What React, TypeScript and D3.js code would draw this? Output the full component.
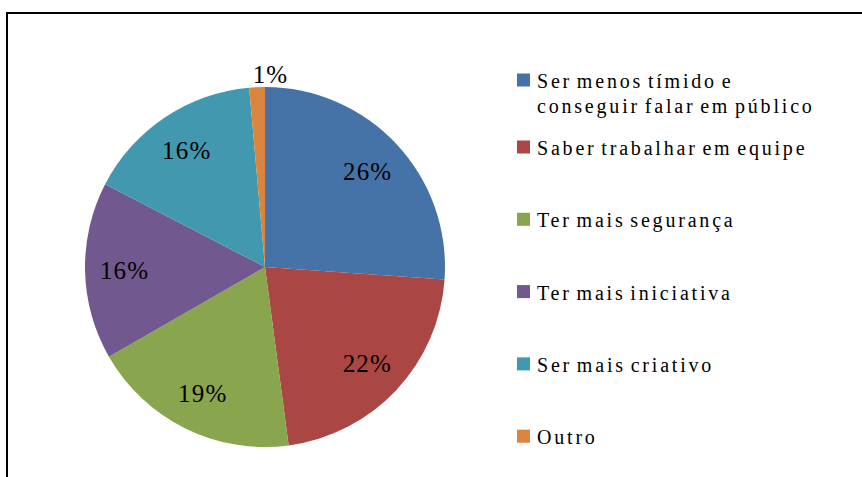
import { useEffect, useRef } from 'react'
import * as d3 from 'd3'

const categories = [
  ['Ser menos tímido e', 'conseguir falar em público'],
  ['Saber trabalhar em equipe'],
  ['Ter mais segurança'],
  ['Ter mais iniciativa'],
  ['Ser mais criativo'],
  ['Outro'],
]
const values = [26.1, 21.8, 18.8, 15.9, 16.0, 1.4]
const labels = ['26%', '22%', '19%', '16%', '16%', '1%']
const colors = ['#4572A7', '#AA4643', '#89A54E', '#71588F', '#4198AF', '#DB843D']

const W = 862
const H = 477
const CX = 265
const CY = 267
const R = 180
const FONT = 'Times New Roman, Liberation Serif, Tinos, DejaVu Serif, serif'

export default function App() {
  const svgRef = useRef<SVGSVGElement>(null)

  useEffect(() => {
    if (!svgRef.current) return
    const svg = d3.select(svgRef.current)
    svg.selectAll('*').remove()

    // frame (only left and top edges show)
    svg.append('path')
      .attr('d', `M7,${H} V13 H${W}`)
      .attr('fill', 'none').attr('stroke', '#000').attr('stroke-width', 2)

    const pie = d3.pie<number>().sort(null).value(d => d)
    const arcs = pie(values)
    const arc = d3.arc<d3.PieArcDatum<number>>().innerRadius(0).outerRadius(R)
    const labelArc = d3.arc<d3.PieArcDatum<number>>().innerRadius(R * 0.78).outerRadius(R * 0.78)
    const outerArc = d3.arc<d3.PieArcDatum<number>>().innerRadius(R + 13).outerRadius(R + 13)

    const g = svg.append('g').attr('transform', `translate(${CX},${CY})`)

    g.selectAll('path.slice').data(arcs).join('path')
      .attr('class', 'slice')
      .attr('d', arc)
      .attr('fill', (_, i) => colors[i])

    g.selectAll('text.lbl').data(arcs).join('text')
      .attr('class', 'lbl')
      .attr('transform', d => {
        const small = d.endAngle - d.startAngle < 0.1
        const [x, y] = small ? outerArc.centroid(d) : labelArc.centroid(d)
        return `translate(${small ? x + 14 : x},${y})`
      })
      .attr('dy', '0.35em')
      .attr('text-anchor', 'middle')
      .attr('font-family', FONT)
      .attr('font-size', 25)
      .attr('letter-spacing', 1.2)
      .attr('fill', '#000')
      .text((_, i) => labels[i])

    // Legend
    const legY = (i: number) => (i === 0 ? 80 : 147 + (i - 1) * 72.3)
    const leg = svg.append('g')
    categories.forEach((lines, i) => {
      const cy = legY(i)
      leg.append('rect')
        .attr('x', 517).attr('y', cy - 6.5)
        .attr('width', 13).attr('height', 13)
        .attr('fill', colors[i])
      const t = leg.append('text')
        .attr('font-family', FONT).attr('font-size', 20)
        .attr('letter-spacing', 2.8).attr('word-spacing', -3)
        .attr('fill', '#000')
      lines.forEach((ln, j) => {
        t.append('tspan')
          .attr('x', 537)
          .attr('y', cy + 8 + j * 25)
          .text(ln)
      })
    })
  }, [])

  return (
    <svg
      ref={svgRef}
      width={W}
      height={H}
      style={{ position: 'absolute', left: 0, top: 0, background: '#fff', display: 'block' }}
    />
  )
}
